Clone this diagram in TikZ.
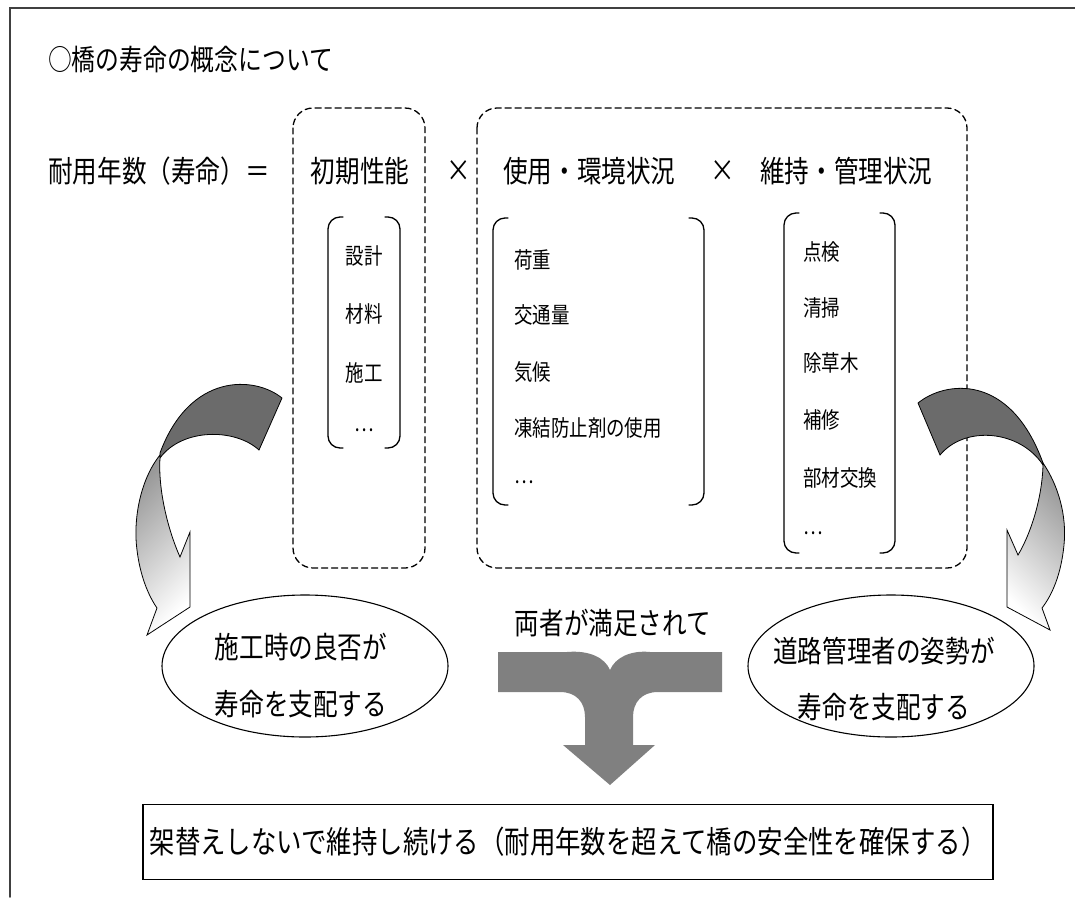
\documentclass[tikz,border=0pt]{standalone}
\usepackage{fontspec}
\setmainfont[FakeStretch=0.82]{Noto Sans CJK JP}
\usetikzlibrary{shapes.geometric}

\tikzset{
  dashframe/.style={dashed, dash pattern=on 6pt off 4pt, line width=1.3pt, rounded corners=20pt},
  parenline/.style={line width=1.3pt, rounded corners=12pt},
  itemtext/.style={inner sep=0pt, font=\fontsize{22.5}{26}\selectfont},
  bigtext/.style={inner sep=0pt, font=\fontsize{30}{34}\selectfont},
  bubble/.style={draw, ellipse, line width=1.1pt, minimum width=286pt, minimum height=142pt},
  darkband/.style={fill=black!58, draw=black, line width=0.8pt},
  lightband/.style={draw=black, line width=0.8pt},
}

\begin{document}
\begin{tikzpicture}[x=1pt, y=-1pt, line cap=round]
      \useasboundingbox (0,0) rectangle (1075,897);

      \draw[line width=1.6pt, black!75] (10,897) -- (10,8) -- (1075,8);

      \node[inner sep=0pt, anchor=west, font=\fontsize{29}{32}\selectfont] (title) at (48,59) {○橋の寿命の概念について};

      \node[bigtext, anchor=west] (lifetime) at (48,171) {耐用年数（寿命）＝};
      \node[bigtext] (initial) at (360,171) {初期性能};
      \node[bigtext] (times1) at (459,171) {×};
      \node[bigtext, anchor=west] (usage) at (503,171) {使用・環境状況};
      \node[bigtext] (times2) at (723,171) {×};
      \node[bigtext, anchor=west] (upkeep) at (760,171) {維持・管理状況};

      \draw[dashframe] (293,108) rectangle (425,568);
      \draw[dashframe] (477,108) rectangle (967,568);

      % initial performance
      \draw[parenline] (343,217) -- (328,217) -- (328,448) -- (343,448);
      \draw[parenline] (385,217) -- (400,217) -- (400,448) -- (385,448);
      \node[itemtext] (design) at (364,256) {設計};
      \node[itemtext] (material) at (364,314) {材料};
      \node[itemtext] (construct) at (364,373) {施工};
      \node[itemtext] (moreA) at (364,430) {…};

      % usage and environment
      \draw[parenline] (508,218) -- (493,218) -- (493,505) -- (508,505);
      \draw[parenline] (689,218) -- (704,218) -- (704,505) -- (689,505);
      \node[itemtext, anchor=west] (load) at (514,260) {荷重};
      \node[itemtext, anchor=west] (traffic) at (514,315) {交通量};
      \node[itemtext, anchor=west] (climate) at (514,372) {気候};
      \node[itemtext, anchor=west] (deicer) at (514,428) {凍結防止剤の使用};
      \node[itemtext, anchor=west] (moreB) at (514,482) {…};

      % maintenance and management
      \draw[parenline] (799,213) -- (784,213) -- (784,553) -- (799,553);
      \draw[parenline] (880,213) -- (895,213) -- (895,553) -- (880,553);
      \node[itemtext, anchor=west] (inspect) at (803,252) {点検};
      \node[itemtext, anchor=west] (clean) at (803,308) {清掃};
      \node[itemtext, anchor=west] (weed) at (803,363) {除草木};
      \node[itemtext, anchor=west] (repair) at (803,420) {補修};
      \node[itemtext, anchor=west] (replace) at (803,478) {部材交換};
      \node[itemtext, anchor=west] (moreC) at (803,533) {…};

      % left curved arrow
      \draw[darkband] (282,398) .. controls (255,376) and (190,372) .. (160,453)
        -- (160,458) .. controls (182,428) and (235,428) .. (259,450) -- cycle;
      \shade[lightband, top color=black!40, bottom color=white, shading angle=45]
        (160,455) .. controls (140,480) and (133,520) .. (137,550)
        .. controls (140,575) and (148,595) .. (157,608) -- (147,635) -- (190,607) -- (190,532)
        -- (180,557) .. controls (168,530) and (158,490) .. (160,458) -- cycle;

      % right curved arrow
      \draw[darkband] (918,403) .. controls (945,381) and (1010,372) .. (1043,463)
        -- (1043,465) .. controls (1020,430) and (965,425) .. (940,455) -- cycle;
      \shade[lightband, top color=black!40, bottom color=white, shading angle=-45]
        (1043,463) .. controls (1058,485) and (1067,515) .. (1064,545)
        .. controls (1061,575) and (1052,595) .. (1042,608) -- (1050,630) -- (1007,607) -- (1007,530)
        -- (1018,555) .. controls (1030,535) and (1042,500) .. (1043,465) -- cycle;

      \node[bubble] (leftbubble) at (305,666) {};
      \node[inner sep=0pt, align=center, font=\fontsize{30}{57}\selectfont] (leftsay) at (301,676) {施工時の良否が\\寿命を支配する};
      \node[bubble] (rightbubble) at (891,666) {};
      \node[inner sep=0pt, align=center, font=\fontsize{30}{56}\selectfont] (rightsay) at (884,679) {道路管理者の姿勢が\\寿命を支配する};

      \node[bigtext] (both) at (613,623) {両者が満足されて};

      \fill[black!50] (498,652) -- (567,652) .. controls (590,650) and (605,658) .. (610,670)
        .. controls (615,658) and (630,650) .. (650,652) -- (722,652) -- (722,692) -- (658,692)
        .. controls (642,692) and (633,702) .. (633,717) -- (633,745) -- (655,745) -- (610,785)
        -- (563,745) -- (585,745) -- (585,717) .. controls (585,702) and (576,692) .. (560,692)
        -- (498,692) -- cycle;

      \node[draw, line width=1.3pt, minimum width=850pt, minimum height=75pt, font=\fontsize{31}{34}\selectfont] (result) at (568,842) {架替えしないで維持し続ける（耐用年数を超えて橋の安全性を確保する）};

      % \node at (610,700) {};
    \end{tikzpicture}
\end{document}
